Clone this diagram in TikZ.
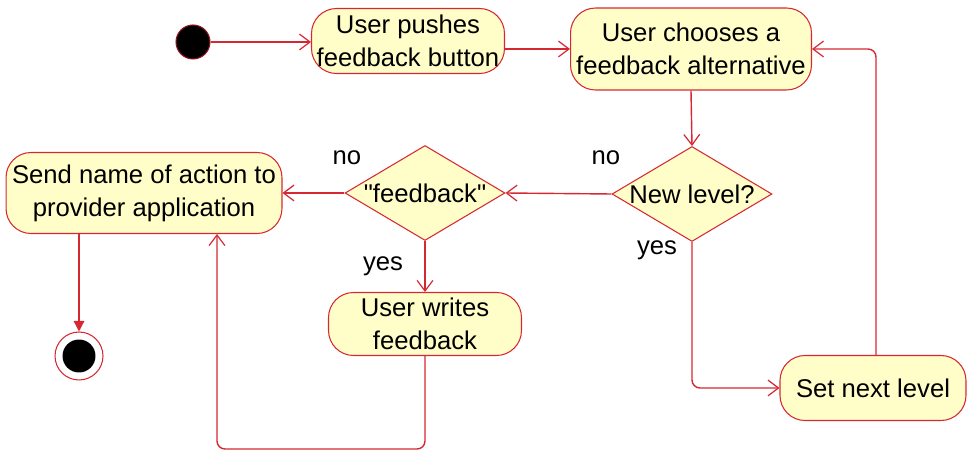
\documentclass[tikz,border=0pt]{standalone}
\usepackage{fontspec}
\setmainfont{Liberation Sans}
\newfontfamily\qfont{Liberation Sans}[Ligatures=TeXOff]
\usetikzlibrary{arrows.meta,shapes.geometric,calc}
\definecolor{lred}{RGB}{214,40,50}
\definecolor{bfill}{RGB}{255,253,200}
\definecolor{dred}{RGB}{150,20,30}
\tikzset{
  px/.style={x=0.02cm,y=-0.02cm},
  txt/.style={font=\fontsize{14.6}{18.7}\selectfont},
  act/.style={txt,draw=lred,line width=0.6pt,fill=bfill,rounded corners=0.5cm,inner sep=0pt,align=center},
  dec/.style={txt,draw=lred,line width=0.6pt,fill=bfill,diamond,aspect=1.68,inner sep=0pt},
  lab/.style={txt,inner sep=0pt},
  flow/.style={draw=lred,line width=0.8pt,-{Straight Barb[length=6pt,width=9pt,line width=0.7pt]},rounded corners=0.16cm},
  flowend/.style={draw=lred,line width=0.8pt,-{Triangle[length=6pt,width=6pt]}},
}
\begin{document}
\begin{tikzpicture}[px]
\useasboundingbox (0,0) rectangle (968,452);
\node[circle,fill=black,draw=dred,line width=0.6pt,minimum size=0.68cm,inner sep=0pt] (start) at (193,42) {};
\node[act,minimum width=3.86cm,minimum height=1.3cm] (push) at (408,41) {User pushes\\feedback button};
\node[act,minimum width=4.82cm,minimum height=1.64cm] (choose) at (691,49) {User chooses a\\feedback alternative};
\node[dec,minimum width=3.2cm,minimum height=1.9cm] (newlvl) at (692,194) {New level?};
\node[dec,minimum width=3.2cm,minimum height=1.9cm] (fb) at (425,193) {\qfont"feedback"};
\node[act,minimum width=5.52cm,minimum height=1.62cm] (send) at (144,193) {Send name of action to\\provider application};
\node[act,minimum width=3.86cm,minimum height=1.26cm] (writes) at (425,324) {User writes\\feedback};
\node[act,minimum width=3.72cm,minimum height=1.3cm] (setnext) at (873,388) {Set next level};
\node[circle,draw=lred,fill=white,line width=0.6pt,minimum size=0.96cm,inner sep=0pt] (end) at (79,356) {};
\node[circle,fill=black,minimum size=0.66cm,inner sep=0pt] (endin) at (end) {};
\node[lab] (l1) at (347,158) {no};
\node[lab] (l2) at (606,158) {no};
\node[lab] (l3) at (383,266) {yes};
\node[lab] (l4) at (657,250) {yes};
\coordinate (loopb) at (217,449);
\draw[flow] (start) -- (start -| push.west);
\draw[flow] (push.east |- choose.west) -- (choose.west);
\draw[flow] (choose.south) -- (newlvl.north);
\draw[flow] (newlvl.west) -- (fb.east);
\draw[flow] (fb.west) -- (fb.west -| send.east);
\draw[flow] (fb.south) -- (writes.north);
\draw[flow] (newlvl.south) |- (setnext.west);
\draw[flow] ([xshift=0.06cm]setnext.north) |- (choose.east);
\draw[flow] (writes.south) |- (loopb) -- (loopb |- send.south);
\draw[flowend] (end |- send.south) -- (end.north);
\end{tikzpicture}
\end{document}
